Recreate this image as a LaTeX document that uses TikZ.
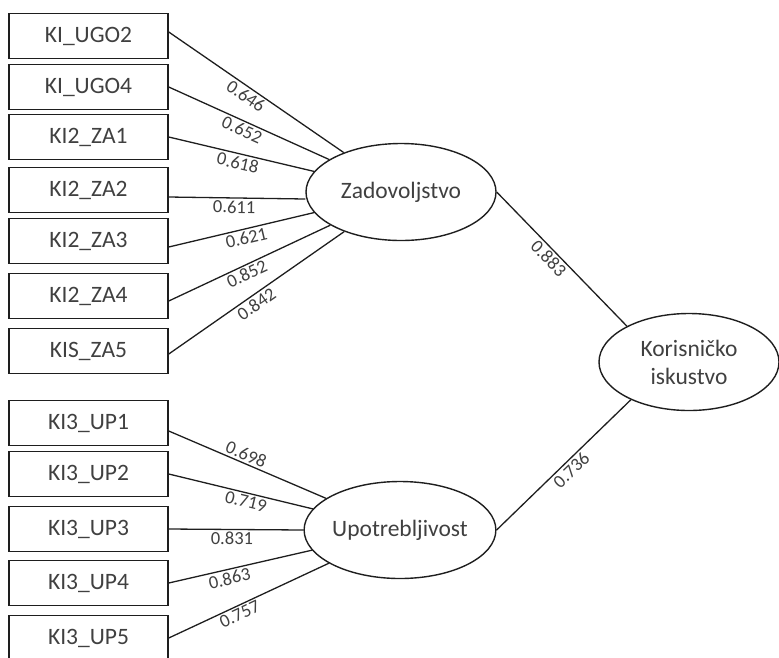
\documentclass[tikz,border=0pt]{standalone}
\usepackage{fontspec}
\setmainfont{Carlito}
\usetikzlibrary{shapes.geometric}

\definecolor{txtgray}{RGB}{64,64,64}
\definecolor{linegray}{RGB}{30,30,30}

\tikzset{
  indicator/.style={draw=linegray, line width=1.5pt, minimum width=159pt, minimum height=45pt,
    inner sep=0pt, text=txtgray, font=\fontsize{23.5}{28}\selectfont},
  construct/.style={ellipse, draw=linegray, line width=1.4pt, minimum width=190pt, minimum height=97pt,
    inner sep=0pt, text=txtgray, font=\fontsize{23.5}{28}\selectfont, align=center},
  path/.style={draw=linegray, line width=1.3pt},
  loading/.style={sloped, inner sep=2pt, text=txtgray, font=\fontsize{18.5}{20}\selectfont}
}

\begin{document}
\begin{tikzpicture}[x=1pt, y=-1pt] % model
    \useasboundingbox (0,0) rectangle (779,657);

    % indikatori
    \node[indicator] (ugo2) at (88.5,36) {KI\_UGO2};
    \node[indicator] (ugo4) at (88.5,87) {KI\_UGO4};
    \node[indicator] (za1) at (88.5,137) {KI2\_ZA1};
    \node[indicator] (za2) at (88.5,190) {KI2\_ZA2};
    \node[indicator] (za3) at (88.5,241) {KI2\_ZA3};
    \node[indicator] (za4) at (88.5,296) {KI2\_ZA4};
    \node[indicator] (za5) at (88.5,351) {KIS\_ZA5};

    \node[indicator] (up1) at (88.5,423) {KI3\_UP1};
    \node[indicator] (up2) at (88.5,474) {KI3\_UP2};
    \node[indicator] (up3) at (88.5,529) {KI3\_UP3};
    \node[indicator] (up4) at (88.5,583) {KI3\_UP4};
    \node[indicator] (up5) at (88.5,638) {KI3\_UP5};

    % latentne varijable
    \node[construct] (zad) at (401,192) {Zadovoljstvo};
    \node[construct] (upo) at (400,530) {Upotrebljivost};
    \node[construct, minimum width=180pt] (kor) at (689,362) {Korisničko\\iskustvo};

    \draw[path] ([yshift=4pt]ugo2.east) -- node[loading, below, pos=0.47] {0.646} (zad);
    \draw[path] (ugo4.east) -- node[loading, below, pos=0.48] {0.652} (zad);
    \draw[path] (za1.east) -- node[loading, below, pos=0.49] {0.618} (zad);
    \draw[path] ([yshift=-7pt]za2.east) -- node[loading, below, pos=0.48] {0.611} ([yshift=-7pt]zad.west);
    \draw[path] ([yshift=-6pt]za3.east) -- node[loading, below, pos=0.52] {0.621} (zad);
    \draw[path] ([yshift=-5pt]za4.east) -- node[loading, below, pos=0.46] {0.852} (zad);
    \draw[path] ([yshift=-3pt]za5.east) -- node[loading, below, pos=0.47] {0.842} (zad);

    \draw[path] ([yshift=-8pt]up1.east) -- node[loading, above, pos=0.47] {0.698} (upo);
    \draw[path] (up2.east) -- node[loading, below, pos=0.55] {0.719} (upo);
    \draw[path] (up3.east) -- node[loading, below, pos=0.47] {0.831} (upo.west);
    \draw[path] (up4.east) -- node[loading, below, pos=0.41] {0.863} (upo);
    \draw[path] (up5.east) -- node[loading, below, pos=0.42] {0.757} (upo);

    \draw[path] (zad.east) -- node[loading, below, pos=0.45] {0.883} (kor.150);
    \draw[path] (upo.east) -- node[loading, below, pos=0.51] {0.736} (kor.213);
\end{tikzpicture}
\end{document}
